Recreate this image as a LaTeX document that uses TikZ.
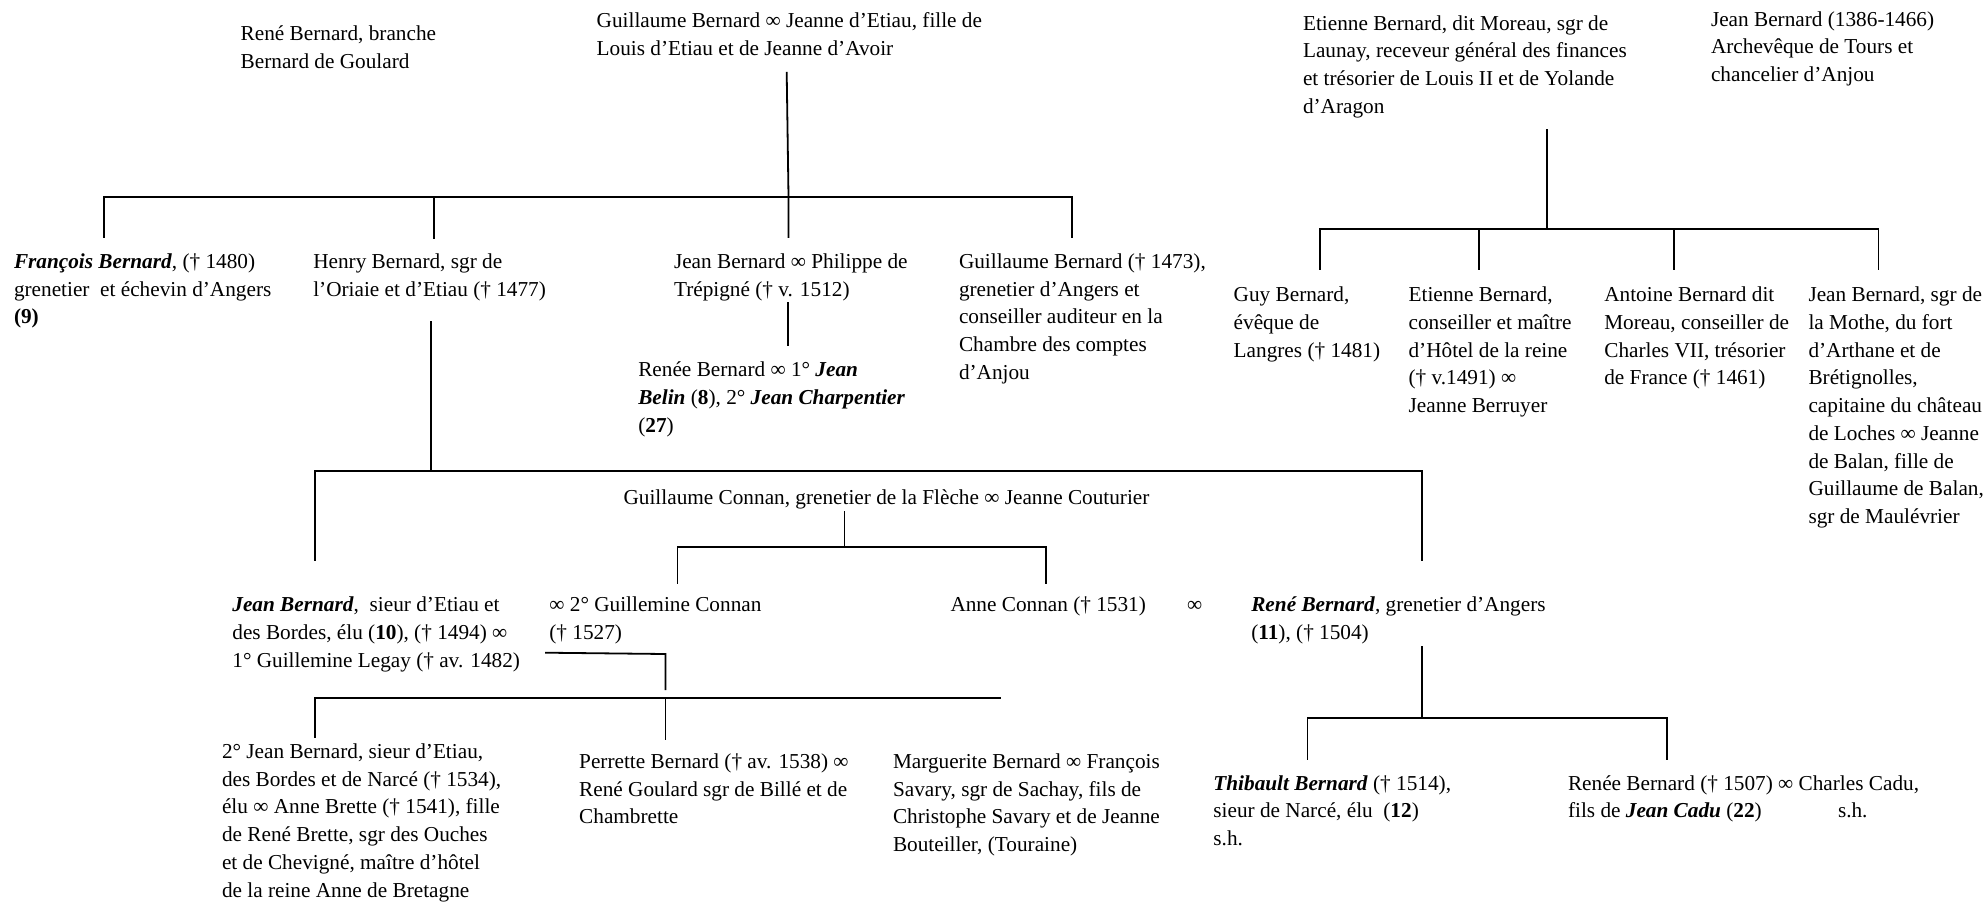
\documentclass[tikz,border=0pt]{standalone}
\usepackage{fontspec}
\setmainfont{Liberation Serif}
\newcommand{\bi}[1]{\textbf{\textit{#1}}}
\newcommand{\tl}[1]{\begin{tabular}[t]{@{}l@{}}#1\end{tabular}}
\tikzset{
  txt/.style={anchor=base west, inner sep=0pt, outer sep=0pt,
    font=\fontsize{10.63pt}{13.87pt}\selectfont},
  ln/.style={line width=0.9pt, line cap=rect}
}
\begin{document}
\begin{tikzpicture}[x=0.5pt,y=-0.5pt]
\useasboundingbox (0,0) rectangle (1986,906);
% ---------- texts ----------
\node[txt] (renebr) at (240.7,40.7) {\tl{René Bernard, branche\\Bernard de Goulard}};
\node[txt] (gb) at (596.7,27.3) {\tl{Guillaume Bernard ∞ Jeanne d’Etiau, fille de\\Louis d’Etiau et de Jeanne d’Avoir}};
\node[txt] (eb) at (1303,30) {\tl{Etienne Bernard, dit Moreau, sgr de\\Launay, receveur général des finances\\et trésorier de Louis II et de Yolande\\d’Aragon}};
\node[txt] (jbarch) at (1711,26) {\tl{Jean Bernard (1386-1466)\\Archevêque de Tours et\\chancelier d’Anjou}};
\node[txt] (fb) at (14,268.3) {\tl{\bi{François Bernard}, († 1480)\\grenetier\ \ et échevin d’Angers\\\textbf{(9)}}};
\node[txt] (hb) at (313.3,268.3) {\tl{Henry Bernard, sgr de\\l’Oriaie et d’Etiau († 1477)}};
\node[txt] (jbp) at (674,268.3) {\tl{Jean Bernard ∞ Philippe de\\Trépigné († v. 1512)}};
\node[txt] (gbb) at (959,268.3) {\tl{Guillaume Bernard († 1473),\\grenetier d’Angers et\\conseiller auditeur en la\\Chambre des comptes\\d’Anjou}};
\node[txt] (renee1) at (638.3,376.7) {\tl{Renée Bernard ∞ 1° \bi{Jean}\\\bi{Belin} (\textbf{8}), 2° \bi{Jean Charpentier}\\(\textbf{27})}};
\node[txt] (guy) at (1233.7,301.7) {\tl{Guy Bernard,\\évêque de\\Langres († 1481)}};
\node[txt] (et2) at (1408.6,301.7) {\tl{Etienne Bernard,\\conseiller et maître\\d’Hôtel de la reine\\(† v.1491) ∞\\Jeanne Berruyer}};
\node[txt] (ant) at (1604.3,301.7) {\tl{Antoine Bernard dit\\Moreau, conseiller de\\Charles VII, trésorier\\de France († 1461)}};
\node[txt] (jbm) at (1808.5,301.7) {\tl{Jean Bernard, sgr de\\la Mothe, du fort\\d’Arthane et de\\Brétignolles,\\capitaine du château\\de Loches ∞ Jeanne\\de Balan, fille de\\Guillaume de Balan,\\sgr de Maulévrier}};
\node[txt] (gc) at (623.6,504) {Guillaume Connan, grenetier de la Flèche ∞ Jeanne Couturier};
\node[txt] (jb10) at (232.4,611.7) {\tl{\bi{Jean Bernard},\ \ sieur d’Etiau et\\des Bordes, élu (\textbf{10}), († 1494) ∞\\1° Guillemine Legay († av. 1482)}};
\node[txt] (gcon) at (549.4,611.7) {\tl{∞ 2° Guillemine Connan\\(† 1527)}};
\node[txt] (anne) at (950.5,611.7) {Anne Connan († 1531)};
\node[txt] (inf) at (1187,611.7) {∞};
\node[txt] (rb11) at (1251.3,611.7) {\tl{\bi{René Bernard}, grenetier d’Angers\\(\textbf{11}), († 1504)}};
\node[txt] (jb2) at (222,758.3) {\tl{2° Jean Bernard, sieur d’Etiau,\\des Bordes et de Narcé († 1534),\\élu ∞ Anne Brette († 1541), fille\\de René Brette, sgr des Ouches\\et de Chevigné, maître d’hôtel\\de la reine Anne de Bretagne}};
\node[txt] (perr) at (579.2,768.3) {\tl{Perrette Bernard († av. 1538) ∞\\René Goulard sgr de Billé et de\\Chambrette}};
\node[txt] (marg) at (893,768.3) {\tl{Marguerite Bernard ∞ François\\Savary, sgr de Sachay, fils de\\Christophe Savary et de Jeanne\\Bouteiller, (Touraine)}};
\node[txt] (thib) at (1213.4,790) {\tl{\bi{Thibault Bernard} († 1514),\\sieur de Narcé, élu\ \ (\textbf{12})\\s.h.}};
\node[txt] (renee2) at (1568,790) {\tl{Renée Bernard († 1507) ∞ Charles Cadu,\\\makebox[135pt][l]{fils de \bi{Jean Cadu} (\textbf{22})}s.h.}};
% ---------- junction coordinates ----------
\coordinate (gbtop) at (786.7,72.7);
\coordinate (j1) at (788.5,196.7);
\coordinate (h1l) at (104.3,196.7);
\coordinate (h1r) at (1071.7,196.7);
\coordinate (h1b) at (433.7,196.7);
\coordinate (d1a) at (104.3,237);
\coordinate (d1b) at (433.7,238);
\coordinate (d1c) at (788.5,237);
\coordinate (d1d) at (1071.7,237);
\coordinate (jbpa) at (787.7,303);
\coordinate (jbpb) at (787.7,345);
\coordinate (hba) at (431,322);
\coordinate (j2) at (431,470.7);
\coordinate (h2l) at (315,470.7);
\coordinate (h2r) at (1422,470.7);
\coordinate (d2a) at (315,560);
\coordinate (d2b) at (1422,560);
\coordinate (gca) at (844.4,511.7);
\coordinate (j3) at (844.4,546.7);
\coordinate (h3l) at (677.5,546.7);
\coordinate (h3r) at (1046.2,546.7);
\coordinate (d3a) at (677.5,583.3);
\coordinate (d3b) at (1046.2,583.3);
\coordinate (ma) at (546,652.7);
\coordinate (mb) at (665.5,654);
\coordinate (mc) at (665.5,689.3);
\coordinate (h4l) at (315,697.7);
\coordinate (h4m) at (665.5,697.7);
\coordinate (h4r) at (1000,697.7);
\coordinate (d4a) at (315,737.3);
\coordinate (d4b) at (665.5,739.3);
\coordinate (rba) at (1421.6,646.7);
\coordinate (j5) at (1421.6,717.7);
\coordinate (h5l) at (1307.5,717.7);
\coordinate (h5r) at (1667.3,717.7);
\coordinate (d5a) at (1307.5,759.3);
\coordinate (d5b) at (1667.3,759.3);
\coordinate (eba) at (1547.3,130);
\coordinate (j6) at (1547.3,229.3);
\coordinate (h6a) at (1320,229.3);
\coordinate (h6b) at (1479,229.3);
\coordinate (h6c) at (1673.8,229.3);
\coordinate (h6d) at (1878.5,229.3);
\coordinate (d6a) at (1320,269.3);
\coordinate (d6b) at (1479,269.3);
\coordinate (d6c) at (1673.8,269.3);
\coordinate (d6d) at (1878.5,269.3);
% ---------- connectors ----------
\draw[ln] (gbtop) -- (j1) -- (d1c);
\draw[ln] (h1l) -- (h1r);
\draw[ln] (h1l) -- (d1a);
\draw[ln] (h1b) -- (d1b);
\draw[ln] (h1r) -- (d1d);
\draw[ln] (jbpa) -- (jbpb);
\draw[ln] (hba) -- (j2);
\draw[ln] (h2l) -- (h2r);
\draw[ln] (h2l) -- (d2a);
\draw[ln] (h2r) -- (d2b);
\draw[ln] (gca) -- (j3);
\draw[ln] (h3l) -- (h3r);
\draw[ln] (h3l) -- (d3a);
\draw[ln] (h3r) -- (d3b);
\draw[ln] (ma) -- (mb) -- (mc);
\draw[ln] (h4l) -- (h4r);
\draw[ln] (h4l) -- (d4a);
\draw[ln] (h4m) -- (d4b);
\draw[ln] (rba) -- (j5);
\draw[ln] (h5l) -- (h5r);
\draw[ln] (h5l) -- (d5a);
\draw[ln] (h5r) -- (d5b);
\draw[ln] (eba) -- (j6);
\draw[ln] (h6a) -- (h6d);
\draw[ln] (h6a) -- (d6a);
\draw[ln] (h6b) -- (d6b);
\draw[ln] (h6c) -- (d6c);
\draw[ln] (h6d) -- (d6d);
\end{tikzpicture}
\end{document}
